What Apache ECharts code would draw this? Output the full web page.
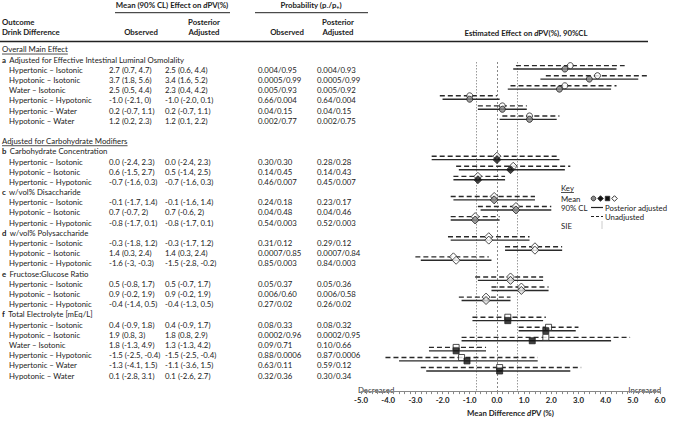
<!DOCTYPE html>
<html><head><meta charset="utf-8">
<script src="https://cdn.jsdelivr.net/npm/echarts@6/dist/echarts.min.js"></script>
<style>html,body{margin:0;padding:0;background:#fff}#c{width:677px;height:422px}</style>
</head><body><div id="c"></div>
<script>
// ---------------- DATA ----------------
const sectionTitles = ['Overall Main Effect', 'Adjusted for Carbohydrate Modifiers'];
const groupLetters = ['a', 'b', 'c', 'd', 'e', 'f'];
const groupTitles = ['Adjusted for Effective Intestinal Luminal Osmolality', 'Carbohydrate Concentration',
  'w/vol% Disaccharide', 'w/vol% Polysaccharide', 'Fructose:Glucose Ratio', 'Total Electrolyte [mEq/L]'];
const groupSection = [0, 1, 1, 1, 1, 1];
const groupSizes = [6, 3, 3, 3, 3, 6];
const contrasts = [
  'Hypertonic – Isotonic', 'Hypotonic – Isotonic', 'Water – Isotonic', 'Hypertonic – Hypotonic', 'Hypertonic – Water', 'Hypotonic – Water',
  'Hypertonic – Isotonic', 'Hypotonic – Isotonic', 'Hypertonic – Hypotonic',
  'Hypertonic – Isotonic', 'Hypotonic – Isotonic', 'Hypertonic – Hypotonic',
  'Hypertonic – Isotonic', 'Hypotonic – Isotonic', 'Hypertonic – Hypotonic',
  'Hypertonic – Isotonic', 'Hypotonic – Isotonic', 'Hypertonic – Hypotonic',
  'Hypertonic – Isotonic', 'Hypotonic – Isotonic', 'Water – Isotonic', 'Hypertonic – Hypotonic', 'Hypertonic – Water', 'Hypotonic – Water'];
const obsMean = [2.7, 3.7, 2.5, -1.0, 0.2, 1.2, 0.0, 0.6, -0.7, -0.1, 0.7, -0.8, -0.3, 1.4, -1.6, 0.5, 0.9, -0.4, 0.4, 1.9, 1.8, -1.5, -1.3, 0.1];
const obsLo = [0.7, 1.8, 0.5, -2.1, -0.7, 0.2, -2.4, -1.5, -1.6, -1.7, -0.7, -1.7, -1.8, 0.3, -3.0, -0.8, -0.2, -1.4, -0.9, 0.8, -1.3, -2.5, -4.1, -2.8];
const obsHi = [4.7, 5.6, 4.4, 0.0, 1.1, 2.3, 2.3, 2.7, 0.3, 1.4, 2.0, 0.1, 1.2, 2.4, -0.3, 1.7, 1.9, 0.5, 1.8, 3.0, 4.9, -0.4, 1.5, 3.1];
const adjMean = [2.5, 3.4, 2.3, -1.0, 0.2, 1.2, 0.0, 0.5, -0.7, -0.1, 0.7, -0.8, -0.3, 1.4, -1.5, 0.5, 0.9, -0.4, 0.4, 1.8, 1.3, -1.5, -1.1, 0.1];
const adjLo = [0.6, 1.6, 0.4, -2.0, -0.7, 0.1, -2.4, -1.4, -1.6, -1.6, -0.6, -1.7, -1.7, 0.3, -2.8, -0.7, -0.2, -1.3, -0.9, 0.8, -1.3, -2.5, -3.6, -2.6];
const adjHi = [4.4, 5.2, 4.2, 0.1, 1.1, 2.2, 2.3, 2.5, 0.3, 1.4, 2.0, 0.1, 1.2, 2.4, -0.2, 1.7, 1.9, 0.5, 1.7, 2.9, 4.2, -0.4, 1.5, 2.7];
const obsCLText = ['2.7 (0.7, 4.7)', '3.7 (1.8, 5.6)', '2.5 (0.5, 4.4)', '-1.0 (-2.1, 0)', '0.2 (-0.7, 1.1)', '1.2 (0.2, 2.3)',
  '0.0 (-2.4, 2.3)', '0.6 (-1.5, 2.7)', '-0.7 (-1.6, 0.3)', '-0.1 (-1.7, 1.4)', '0.7 (-0.7, 2)', '-0.8 (-1.7, 0.1)',
  '-0.3 (-1.8, 1.2)', '1.4 (0.3, 2.4)', '-1.6 (-3, -0.3)', '0.5 (-0.8, 1.7)', '0.9 (-0.2, 1.9)', '-0.4 (-1.4, 0.5)',
  '0.4 (-0.9, 1.8)', '1.9 (0.8, 3)', '1.8 (-1.3, 4.9)', '-1.5 (-2.5, -0.4)', '-1.3 (-4.1, 1.5)', '0.1 (-2.8, 3.1)'];
const adjCLText = ['2.5 (0.6, 4.4)', '3.4 (1.6, 5.2)', '2.3 (0.4, 4.2)', '-1.0 (-2.0, 0.1)', '0.2 (-0.7, 1.1)', '1.2 (0.1, 2.2)',
  '0.0 (-2.4, 2.3)', '0.5 (-1.4, 2.5)', '-0.7 (-1.6, 0.3)', '-0.1 (-1.6, 1.4)', '0.7 (-0.6, 2)', '-0.8 (-1.7, 0.1)',
  '-0.3 (-1.7, 1.2)', '1.4 (0.3, 2.4)', '-1.5 (-2.8, -0.2)', '0.5 (-0.7, 1.7)', '0.9 (-0.2, 1.9)', '-0.4 (-1.3, 0.5)',
  '0.4 (-0.9, 1.7)', '1.8 (0.8, 2.9)', '1.3 (-1.3, 4.2)', '-1.5 (-2.5, -0.4)', '-1.1 (-3.6, 1.5)', '0.1 (-2.6, 2.7)'];
const probObs = ['0.004/0.95', '0.0005/0.99', '0.005/0.93', '0.66/0.004', '0.04/0.15', '0.002/0.77',
  '0.30/0.30', '0.14/0.45', '0.46/0.007', '0.24/0.18', '0.04/0.48', '0.54/0.003',
  '0.31/0.12', '0.0007/0.85', '0.85/0.003', '0.05/0.37', '0.006/0.60', '0.27/0.02',
  '0.08/0.33', '0.0002/0.96', '0.09/0.71', '0.88/0.0006', '0.63/0.11', '0.32/0.36'];
const probAdj = ['0.004/0.93', '0.0005/0.99', '0.005/0.92', '0.64/0.004', '0.04/0.15', '0.002/0.75',
  '0.28/0.28', '0.14/0.43', '0.45/0.007', '0.23/0.17', '0.04/0.46', '0.52/0.003',
  '0.29/0.12', '0.0007/0.84', '0.84/0.003', '0.05/0.36', '0.006/0.58', '0.26/0.02',
  '0.08/0.32', '0.0002/0.95', '0.10/0.66', '0.87/0.0006', '0.59/0.12', '0.30/0.34'];
const sieValue = 0.75;
const xTicks = [-5, -4, -3, -2, -1, 0, 1, 2, 3, 4, 5, 6];

// ---------------- STYLE ----------------
const FF = 'Lato';
const FS = 7.8;
const INK = '#222';
const groupMarker = [
  { symbol: 'circle', size: 6, obs: '#fff', adj: '#8a8a8a' },
  { symbol: 'diamond', size: 8, obs: '#fff', adj: '#111' },
  { symbol: 'diamond', size: 8, obs: '#fff', adj: '#8a8a8a' },
  { symbol: 'diamond', size: 8, obs: '#fff', adj: '#fff' },
  { symbol: 'diamond', size: 8, obs: '#fff', adj: '#ddd' },
  { symbol: 'rect', size: 6, obs: '#fff', adj: '#111' }
];

// ---------------- LAYOUT (line index) ----------------
const lines = [];
let n = 0, prevSec = -1;
const rowLine = [], rowGroup = [];
let r = 0;
groupSizes.forEach((sz, g) => {
  if (groupSection[g] !== prevSec) {
    if (n > 0) n++;
    lines.push({ n: n++, kind: 'section', text: sectionTitles[groupSection[g]] });
    prevSec = groupSection[g];
  }
  lines.push({ n: n++, kind: 'group', g });
  for (let k = 0; k < sz; k++) { rowLine.push(n); rowGroup.push(g); lines.push({ n: n++, kind: 'row', i: r++ }); }
});
const textY = ln => 69.8 + (ln - 2) * 10.19;
const OFF = 0.17;

const canvas = document.createElement('canvas');
const ctx = canvas.getContext('2d');
function tw(t, bold) { ctx.font = (bold ? 'bold ' : '') + FS + 'px ' + FF; return ctx.measureText(t).width; }

const G = [];
function txt(t, x, y, o = {}) {
  G.push({ type: 'text', x, y, silent: true, style: Object.assign({ text: t, fill: INK, fontFamily: FF, fontSize: FS,
    fontWeight: o.bold ? 'bold' : 'normal', textAlign: o.align || 'left', textVerticalAlign: 'middle', lineHeight: FS }, o.style || {}) });
}
function hline(x1, x2, y, w = 1, col = INK, dash) {
  G.push({ type: 'line', silent: true, shape: { x1, y1: y, x2, y2: y }, style: { stroke: col, lineWidth: w, lineDash: dash } });
}
const richB = { fontFamily: FF, fontSize: FS, fontWeight: 'bold', fill: INK, lineHeight: 10 };

// headers
G.push({ type: 'text', x: 172, y: 4.5, silent: true, style: { text: '{b|Mean (90% CL) Effect on }{i|d}{b|PV(%)}', textAlign: 'center', textVerticalAlign: 'middle',
  rich: { b: richB, i: Object.assign({}, richB, { fontStyle: 'italic' }) } } });
hline(115, 230, 12.7);
G.push({ type: 'text', x: 311, y: 4.5, silent: true, style: { text: '{b|Probability (p}{s|-}{b|/p}{s|+}{b|)}', textAlign: 'center', textVerticalAlign: 'middle',
  rich: { b: richB, s: Object.assign({}, richB, { fontSize: 5.5, verticalAlign: 'bottom' }) } } });
hline(255, 368, 12.7);
txt('Outcome', 2, 22, { bold: true });
txt('Drink Difference', 2, 32.3, { bold: true });
txt('Observed', 141, 32.3, { bold: true, align: 'center' });
txt('Posterior', 204, 22, { bold: true, align: 'center' });
txt('Adjusted', 204, 32.3, { bold: true, align: 'center' });
txt('Observed', 287, 32.3, { bold: true, align: 'center' });
txt('Posterior', 338, 22, { bold: true, align: 'center' });
txt('Adjusted', 338, 32.3, { bold: true, align: 'center' });
G.push({ type: 'text', x: 526, y: 33, silent: true, style: { text: '{b|Estimated Effect on }{i|d}{b|PV(%), 90%CL}', textAlign: 'center', textVerticalAlign: 'middle',
  rich: { b: richB, i: Object.assign({}, richB, { fontStyle: 'italic' }) } } });
hline(0, 648, 41.5, 1.6);

// table body
lines.forEach(L => {
  const y = textY(L.n);
  if (L.kind === 'section') {
    txt(L.text, 2, y);
    hline(2, 2 + tw(L.text), y + 4.6, 0.8);
  } else if (L.kind === 'group') {
    G.push({ type: 'text', x: 2, y, silent: true, style: { text: '{b|' + groupLetters[L.g] + '} {n|' + groupTitles[L.g] + '}', textVerticalAlign: 'middle',
      rich: { b: Object.assign({}, richB, { lineHeight: FS }), n: Object.assign({}, richB, { fontWeight: 'normal', lineHeight: FS }) } } });
  } else {
    const i = L.i;
    txt(contrasts[i], 9, y);
    txt(obsCLText[i], 109, y);
    txt(adjCLText[i], 165, y);
    txt(probObs[i], 258, y);
    txt(probAdj[i], 317, y);
  }
});

// key
txt('Key', 561, 188);
hline(561, 561 + tw('Key'), 192.5, 0.8);
txt('Mean', 561, 198.5);
function keySym(gm, cx, cy, fill) {
  const st = { fill, stroke: '#333', lineWidth: 1 };
  if (gm.symbol === 'circle') return { type: 'circle', silent: true, shape: { cx, cy, r: 2.3 }, style: st };
  if (gm.symbol === 'rect') return { type: 'rect', silent: true, shape: { x: cx - 2.2, y: cy - 2.2, width: 4.4, height: 4.4 }, style: st };
  return { type: 'polygon', silent: true, shape: { points: [[cx, cy - 2.8], [cx + 2.8, cy], [cx, cy + 2.8], [cx - 2.8, cy]] }, style: st };
}
G.push(keySym(groupMarker[0], 593.5, 198.5, groupMarker[0].adj));
G.push(keySym(groupMarker[1], 600.5, 198.5, groupMarker[1].adj));
G.push(keySym(groupMarker[5], 607.5, 198.5, groupMarker[5].adj));
G.push(keySym(groupMarker[3], 614.5, 198.5, '#fff'));
txt('90% CL', 561, 207.5);
hline(591, 603, 207.5, 1.2, '#222');
txt('Posterior adjusted', 605, 207.5);
hline(591, 603, 216.5, 1.2, '#222', [3, 2]);
txt('Unadjusted', 605, 216.5);
txt('SIE', 561, 225.5);
G.push({ type: 'line', silent: true, shape: { x1: 602, y1: 221.5, x2: 602, y2: 229 }, style: { stroke: '#999', lineWidth: 1, lineDash: [1, 1] } });

txt('Decreased', 358, 389.5, { style: { fill: '#333' } });
txt('Increased', 661, 389.5, { align: 'right', style: { fill: '#333' } });

// ---------------- SERIES DATA ----------------
const ciData = [], obsPts = [], adjPts = [];
contrasts.forEach((c, i) => {
  const yl = rowLine[i];
  const gm = groupMarker[rowGroup[i]];
  ciData.push([obsLo[i], obsHi[i], yl - OFF, 0]);
  ciData.push([adjLo[i], adjHi[i], yl + OFF, 1]);
  obsPts.push({ value: [obsMean[i], yl - OFF], symbol: gm.symbol, symbolSize: gm.size,
    itemStyle: { color: gm.obs, borderColor: '#222', borderWidth: 1 } });
  adjPts.push({ value: [adjMean[i], yl + OFF], symbol: gm.symbol, symbolSize: gm.size,
    itemStyle: { color: gm.adj, borderColor: '#222', borderWidth: 1 } });
});

const chart = echarts.init(document.getElementById('c'), null, { renderer: 'svg' });
chart.setOption({
  animation: false,
  backgroundColor: '#fff',
  grid: { left: 361, right: 17, top: 62, bottom: 24 },
  xAxis: {
    type: 'value', min: xTicks[0], max: xTicks[xTicks.length - 1], interval: 1,
    splitLine: { show: false },
    axisLine: { show: true, lineStyle: { color: '#888', width: 1 } },
    axisTick: { show: true, length: 3, lineStyle: { color: '#888' } },
    minorTick: { show: true, splitNumber: 5, length: 3, lineStyle: { color: '#888' } },
    minorSplitLine: { show: false },
    axisLabel: { formatter: v => v.toFixed(1), fontFamily: FF, fontSize: FS, fontWeight: 'bold', color: INK, margin: 5 },
    name: '{b|Mean Difference }{i|d}{b|PV (%)}', nameLocation: 'middle', nameGap: 17,
    nameTextStyle: { rich: { b: { fontFamily: FF, fontSize: FS, fontWeight: 'bold', color: INK },
      i: { fontFamily: FF, fontSize: FS, fontWeight: 'bold', fontStyle: 'italic', color: INK } } }
  },
  yAxis: { type: 'value', inverse: true, min: 1.47, max: 34.17, show: false },
  series: [
    {
      type: 'custom', z: 2, data: ciData, encode: { x: [0, 1], y: 2 },
      renderItem: (params, api) => {
        const a = api.coord([api.value(0), api.value(2)]);
        const b = api.coord([api.value(1), api.value(2)]);
        const dashed = api.value(3) === 0;
        return { type: 'line', shape: { x1: a[0], y1: a[1], x2: b[0], y2: b[1] },
          style: { stroke: '#2a2a2a', lineWidth: 1.4, lineDash: dashed ? [5, 3] : null } };
      },
      markLine: {
        silent: true, symbol: 'none', label: { show: false }, z: 1,
        lineStyle: { type: [1.5, 1.5], color: '#9a9a9a', width: 1 },
        data: [{ xAxis: -sieValue }, { xAxis: 0, lineStyle: { type: [2, 2], color: '#888' } }, { xAxis: sieValue }]
      }
    },
    { type: 'scatter', z: 3, data: obsPts },
    { type: 'scatter', z: 4, data: adjPts }
  ],
  graphic: G
});
</script></body></html>
